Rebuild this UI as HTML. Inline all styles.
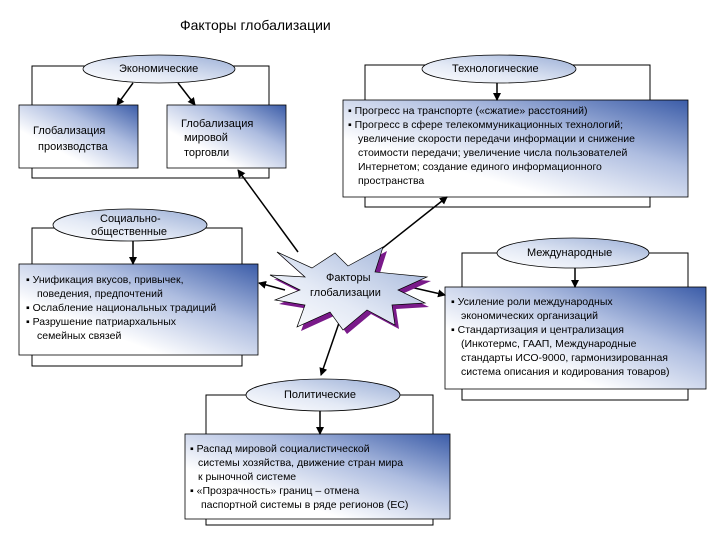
<!DOCTYPE html>
<html><head><meta charset="utf-8"><style>
body{margin:0;background:#fff;width:720px;height:540px;overflow:hidden}
svg text{font-family:"Liberation Sans","DejaVu Sans",sans-serif;fill:#000}
</style></head><body>
<svg width="720" height="540" viewBox="0 0 720 540" xmlns="http://www.w3.org/2000/svg">
<defs>
<linearGradient id="bx" x1="1" y1="0" x2="0" y2="1">
<stop offset="0" stop-color="#3b5ca8"/><stop offset="0.35" stop-color="#aebde0"/><stop offset="0.7" stop-color="#ffffff"/></linearGradient>
<linearGradient id="el" x1="1" y1="0" x2="0" y2="1">
<stop offset="0" stop-color="#9aaed6"/><stop offset="0.6" stop-color="#e3e9f5"/><stop offset="1" stop-color="#ffffff"/></linearGradient>
<marker id="ah" markerWidth="8" markerHeight="8" refX="7" refY="4" orient="auto" markerUnits="userSpaceOnUse"><path d="M0,0 L8,4 L0,8 z" fill="#000"/></marker>
</defs>
<text x="180" y="30" font-size="14">Факторы глобализации</text>
<g fill="none" stroke="#000" stroke-width="1">
<rect x="32" y="66" width="237" height="112"/>
<rect x="365" y="65" width="285" height="142"/>
<rect x="32" y="228" width="210" height="138"/>
<rect x="462" y="253" width="226" height="147"/>
<rect x="206" y="395" width="227" height="130"/>
</g>
<g stroke="#000" stroke-width="0.8">
<rect x="19" y="105" width="119" height="63" fill="url(#bx)"/>
<rect x="167" y="105" width="119" height="63" fill="url(#bx)"/>
<rect x="343" y="100" width="345" height="97" fill="url(#bx)"/>
<rect x="19" y="264" width="239" height="91" fill="url(#bx)"/>
<rect x="445" y="287" width="261" height="102" fill="url(#bx)"/>
<rect x="185" y="434" width="265" height="85" fill="url(#bx)"/>
<ellipse cx="159" cy="69" rx="76" ry="14" fill="url(#el)"/>
<ellipse cx="499" cy="69" rx="77" ry="14" fill="url(#el)"/>
<ellipse cx="130" cy="225" rx="77" ry="16" fill="url(#el)"/>
<ellipse cx="573" cy="253" rx="76" ry="15" fill="url(#el)"/>
<ellipse cx="323" cy="395" rx="77" ry="16" fill="url(#el)"/>
</g>
<g stroke="#000" stroke-width="1.5" marker-end="url(#ah)">
<line x1="133" y1="83" x2="117" y2="105"/>
<line x1="178" y1="83" x2="195" y2="105"/>
<line x1="497" y1="83" x2="497" y2="100"/>
<line x1="133" y1="241" x2="133" y2="264"/>
<line x1="575" y1="268" x2="575" y2="287"/>
<line x1="320" y1="411" x2="320" y2="434"/>
<line x1="298" y1="252" x2="238" y2="170"/>
<line x1="365" y1="262" x2="447" y2="197"/>
<line x1="285" y1="290" x2="259" y2="283"/>
<line x1="410" y1="287" x2="445" y2="295"/>
<line x1="340" y1="320" x2="321" y2="375"/>
</g>
<polygon transform="translate(4,4)" fill="#7a1a8a" points="277,252 312,268 335,253 348,266 383,247 375,272 427,277 398,290 425,303 392,305 395,325 367,310 343,330 330,312 297,327 305,305 275,300 300,290 270,275 305,277"/>
<polygon fill="url(#el)" stroke="#000" stroke-width="0.7" points="277,252 312,268 335,253 348,266 383,247 375,272 427,277 398,290 425,303 392,305 395,325 367,310 343,330 330,312 297,327 305,305 275,300 300,290 270,275 305,277"/>
<g font-size="11">
<text x="119" y="72">Экономические</text>
<text x="452" y="72">Технологические</text>
<text x="100" y="222">Социально-</text>
<text x="91" y="235">общественные</text>
<text x="527" y="256">Международные</text>
<text x="284" y="398">Политические</text>
<text x="326" y="281">Факторы</text>
<text x="310" y="296">глобализации</text>
<text x="33" y="134">Глобализация</text>
<text x="38" y="150">производства</text>
<text x="181" y="127">Глобализация</text>
<text x="184" y="141">мировой</text>
<text x="184" y="156">торговли</text>
</g>
<g font-size="10.5">
<text x="348" y="114">▪ Прогресс на транспорте («сжатие» расстояний)</text>
<text x="348" y="128">▪ Прогресс в сфере телекоммуникационных технологий;</text>
<text x="358" y="142">увеличение скорости передачи информации и снижение</text>
<text x="358" y="156">стоимости передачи; увеличение числа пользователей</text>
<text x="358" y="170">Интернетом; создание единого информационного</text>
<text x="358" y="184">пространства</text>
<text x="26" y="283">▪ Унификация вкусов, привычек,</text>
<text x="37" y="297">поведения, предпочтений</text>
<text x="26" y="311">▪ Ослабление национальных традиций</text>
<text x="26" y="325">▪ Разрушение патриархальных</text>
<text x="37" y="339">семейных связей</text>
<text x="451" y="305">▪ Усиление роли международных</text>
<text x="461" y="319">экономических организаций</text>
<text x="451" y="333">▪ Стандартизация и централизация</text>
<text x="461" y="347">(Инкотермс, ГААП, Международные</text>
<text x="461" y="361">стандарты ИСО-9000, гармонизированная</text>
<text x="461" y="375">система описания и кодирования товаров)</text>
<text x="190" y="452">▪ Распад мировой социалистической</text>
<text x="198" y="466">системы хозяйства, движение стран мира</text>
<text x="198" y="480">к рыночной системе</text>
<text x="190" y="494">▪ «Прозрачность» границ – отмена</text>
<text x="201" y="508">паспортной системы в ряде регионов (ЕС)</text>
</g>
</svg>
</body></html>
